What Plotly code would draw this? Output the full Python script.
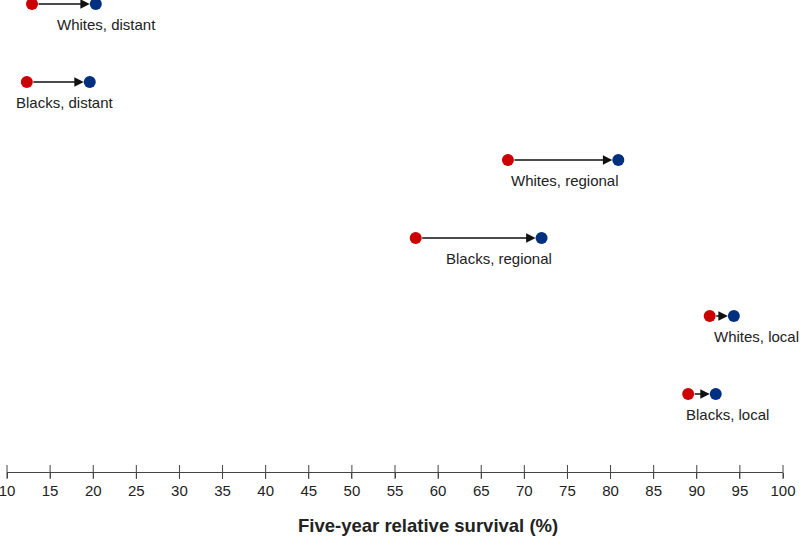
import plotly.graph_objects as go

# Data
groups = ["Whites, distant", "Blacks, distant", "Whites, regional",
          "Blacks, regional", "Whites, local", "Blacks, local"]
start_vals = [12.9, 12.3, 68.1, 57.4, 91.5, 89.0]   # earlier period (red)
end_vals = [20.3, 19.6, 80.9, 72.0, 94.3, 92.2]     # later period (blue)
row_pos = [6, 5, 4, 3, 2, 1]
tick_vals = list(range(10, 101, 5))
tick_text = [str(v) for v in tick_vals]

# label anchor positions (left edge, in axis units)
label_x = [15.6, 10.8, 68.2, 60.7, 91.8, 88.5]

RED = "#CC0000"
BLUE = "#00307F"
FONT = "Liberation Sans, Arial, sans-serif"

fig = go.Figure()

# crossing tick marks on the axis line
fig.add_trace(go.Scatter(
    x=tick_vals, y=[0] * len(tick_vals), mode="markers",
    marker=dict(symbol="line-ns", size=10, line=dict(color="#444", width=1)),
    hoverinfo="skip", cliponaxis=False, showlegend=False))

fig.add_trace(go.Scatter(
    x=start_vals, y=row_pos, mode="markers",
    marker=dict(color=RED, size=12), cliponaxis=False, showlegend=False))
fig.add_trace(go.Scatter(
    x=end_vals, y=row_pos, mode="markers",
    marker=dict(color=BLUE, size=12), cliponaxis=False, showlegend=False))

for g, s, e, y, lx in zip(groups, start_vals, end_vals, row_pos, label_x):
    fig.add_annotation(x=e, y=y, ax=s, ay=y, xref="x", yref="y",
                       axref="x", ayref="y", showarrow=True, text="",
                       arrowhead=2, arrowsize=1.35, arrowwidth=1.4,
                       arrowcolor="#111", standoff=6, startstandoff=5)
    fig.add_annotation(x=lx, y=y, xref="x", yref="y", text=g,
                       showarrow=False, xanchor="left", yanchor="middle",
                       yshift=-20, font=dict(size=15, color="#222", family=FONT))

fig.add_annotation(x=0.5425, y=-0.1123, xref="paper", yref="paper",
                   text="<b>Five-year relative survival (%)</b>",
                   showarrow=False, xanchor="center", yanchor="middle",
                   font=dict(size=18.5, color="#222", family=FONT))

fig.update_layout(
    width=800, height=536,
    margin=dict(l=7, r=17, t=0, b=64, autoexpand=False),
    plot_bgcolor="white", paper_bgcolor="white",
    font=dict(family=FONT, color="#222", size=14),
    xaxis=dict(range=[10, 100], tickvals=tick_vals, ticktext=tick_text,
               showgrid=False, zeroline=False, showline=True,
               linecolor="#444", linewidth=1, ticks="outside", ticklen=5,
               tickcolor="#444", tickwidth=1, automargin=False,
               ticklabeloverflow="allow",
               tickfont=dict(size=15, color="#222")),
    yaxis=dict(range=[0, 6.0513], visible=False, showgrid=False,
               zeroline=False, automargin=False),
)

# remove the page's default 8px body margin so the figure fills the window
fig.write_html("out.html",
               config={"displayModeBar": False},
               post_script="document.body.style.margin='0';"
                           "document.body.style.overflow='hidden';")
